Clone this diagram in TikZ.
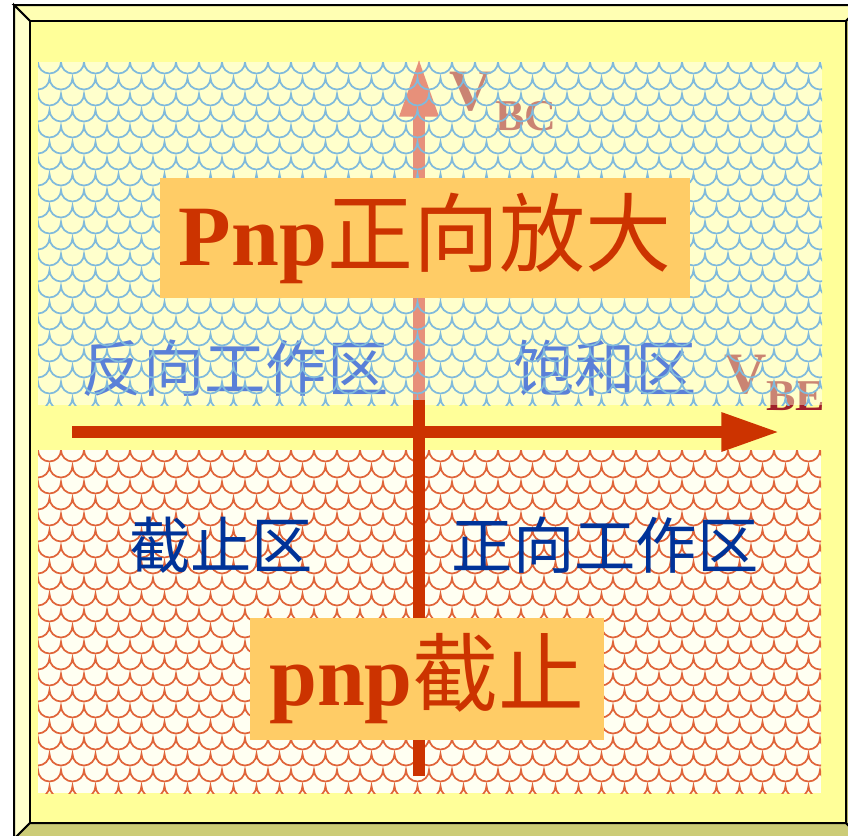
\documentclass[tikz,border=0pt]{standalone}
\usepackage{fontspec}
\setmainfont{Liberation Serif}
\newfontfamily\cjk{Noto Sans CJK SC}
\usetikzlibrary{arrows.meta}
\definecolor{axisred}{HTML}{CC3300}
\definecolor{underred}{HTML}{D53537}
\definecolor{undervlab}{HTML}{A0202A}
\definecolor{innerbg}{HTML}{FFFF99}
\definecolor{topstrip}{HTML}{FFFFB3}
\definecolor{leftstrip}{HTML}{FFFFCC}
\definecolor{darkstrip}{HTML}{CCCC77}
\definecolor{topfill}{HTML}{FFFFCC}
\definecolor{botfill}{HTML}{FFFFF2}
\definecolor{bluepatc}{HTML}{80BADC}
\definecolor{redpatc}{HTML}{E0653A}
\definecolor{fadeblue}{HTML}{5A80D8}
\definecolor{deepblue}{HTML}{003399}
\definecolor{boxorange}{HTML}{FFCC66}
\tikzset{
  framestyle/.style={draw=black,line width=1.5pt,line join=miter},
  bluepat/.style={draw=bluepatc,line width=1.3pt},
  redpat/.style={draw=redpatc,line width=1.3pt},
  axisline/.style={line width=9pt,-{Triangle[length=44pt,width=27pt]}},
  plainaxis/.style={draw=axisred,line width=9pt},
  toplabel/.style={inner sep=0pt,text=fadeblue,font=\cjk\fontsize{46pt}{50pt}\selectfont},
  botlabel/.style={inner sep=0pt,text=deepblue,font=\cjk\fontsize{46pt}{50pt}\selectfont},
  vmain/.style={inner sep=0pt,anchor=base west,text=undervlab,font=\bfseries\fontsize{44pt}{48pt}\selectfont},
  vsub/.style={inner sep=0pt,anchor=base west,text=undervlab,font=\bfseries\fontsize{33pt}{36pt}\selectfont},
  bigbox/.style={fill=boxorange,inner sep=0pt,text=axisred,font=\fontsize{64.5pt}{70pt}\selectfont}
}
\begin{document}
\begin{tikzpicture}[x=0.75pt,y=-0.75pt]
\useasboundingbox (0,0) rectangle (848,835);
\clip (0,0) rectangle (848,835);
\fill[white] (0,0) rectangle (848,835);
% bevel frame
\filldraw[framestyle,fill=topstrip] (14,5) -- (862,5) -- (846,21) -- (30,21) -- cycle;
\filldraw[framestyle,fill=leftstrip] (14,5) -- (30,21) -- (30,823) -- (14,839) -- cycle;
\filldraw[framestyle,fill=darkstrip] (14,839) -- (30,823) -- (846,823) -- (862,839) -- cycle;
\filldraw[framestyle,fill=darkstrip] (862,5) -- (846,21) -- (846,823) -- (862,839) -- cycle;
\filldraw[framestyle,fill=innerbg] (30,21) rectangle (846,823);
% axis coordinates
\coordinate (vstart) at (419,776);
\coordinate (vend) at (419,58);
\coordinate (vmid) at (419,400);
\coordinate (hstart) at (72,432);
\coordinate (hend) at (780,432);
% top region base
\fill[topfill] (38,62) rectangle (822,405);
% vertical axis (top part faded by overlay)
\draw[axisline,draw=underred,fill=underred] (vstart) -- (vend);
\node[vmain] (vbc) at (449,110) {V};
\node[vsub] (vbcsub) at (495,130) {BC};
\node[vmain] (vbe) at (724,393) {V};
\node[vsub] (vbesub) at (766,410) {BE};
% overlay of top region
\fill[topfill,opacity=0.45] (38,62) rectangle (822,405);
\node[toplabel] (rev) at (235,368) {反向工作区};
\node[toplabel] (sat) at (605,368) {饱和区};
\begin{scope}
\clip (38,62) rectangle (822,405);
\foreach \j in {0,...,22}{
  \pgfmathsetmacro{\yy}{62+\j*16}
  \pgfmathsetmacro{\xx}{38-23+mod(\j,2)*11.5}
  \draw[bluepat] (\xx,\yy) \foreach \i in {1,...,37}{ arc[start angle=180,end angle=0,radius=11.5] };
}
\end{scope}
% bottom region
\fill[botfill] (38,450) rectangle (821,793);
\begin{scope}
\clip (38,450) rectangle (821,793);
\foreach \j in {0,...,22}{
  \pgfmathsetmacro{\yy}{450+\j*16}
  \pgfmathsetmacro{\xx}{38-23+mod(\j,2)*11.5}
  \draw[redpat] (\xx,\yy) \foreach \i in {1,...,37}{ arc[start angle=180,end angle=0,radius=11.5] };
}
\end{scope}
\draw[plainaxis] (vstart) -- (vmid);
% horizontal axis
\draw[axisline,draw=axisred,fill=axisred] (hstart) -- (hend);
% bottom labels
\node[botlabel] (cut) at (221,545) {截止区};
\node[botlabel] (fwd) at (605,545) {正向工作区};
% big boxes
\node[bigbox,minimum width=397.5pt,minimum height=90pt] (pnpamp) at (425,238) {{\bfseries Pnp}{\cjk 正向放大}};
\node[bigbox,minimum width=265.5pt,minimum height=91.5pt] (pnpcut) at (427,679) {{\bfseries pnp}{\cjk 截止}};
\end{tikzpicture}
\end{document}
